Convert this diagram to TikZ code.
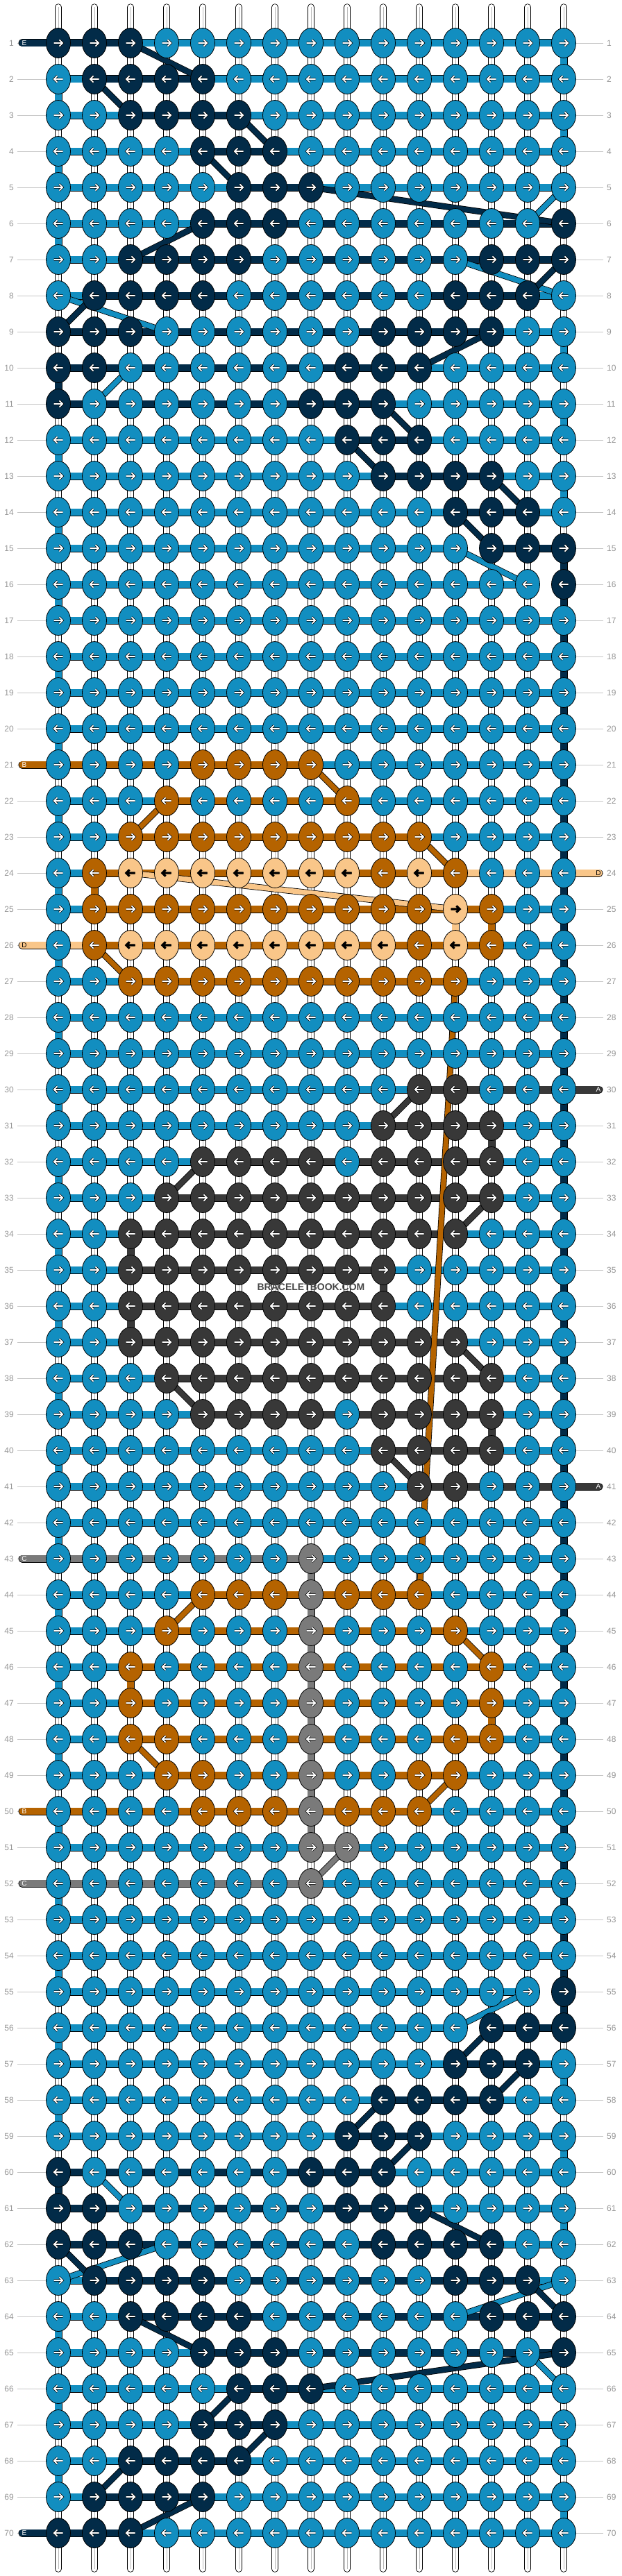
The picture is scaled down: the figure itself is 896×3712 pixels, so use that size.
\documentclass[tikz,border=0pt]{standalone}
\usepackage{fontspec}
\setmainfont{Liberation Sans}
\usetikzlibrary{shapes.geometric}

\definecolor{cb}{RGB}{18,142,192}
\definecolor{cn}{RGB}{2,43,72}
\definecolor{co}{RGB}{181,99,0}
\definecolor{cp}{RGB}{249,198,137}
\definecolor{cg}{RGB}{56,56,56}
\definecolor{cm}{RGB}{122,122,122}
\definecolor{labgray}{RGB}{150,150,150}
\colorlet{arwb}{white}
\colorlet{arwn}{white}
\colorlet{arwo}{white}
\colorlet{arwg}{white}
\colorlet{arwm}{white}
\colorlet{arwp}{black}

\pgfdeclarelayer{paper}
\pgfdeclarelayer{warp}
\pgfdeclarelayer{weft}
\pgfdeclarelayer{cross}
\pgfsetlayers{paper,warp,weft,cross,main}

\newcount\kcol

\begin{document}
\begin{tikzpicture}[x=1pt,y=-1pt,
  knot/.style={ellipse,draw=black,line width=.8pt,minimum width=35pt,minimum height=43pt,inner sep=0pt},
  glyph/.style={draw=black,line width=.7pt,double=arw#1,double distance=1.8pt},
  thread/.style={draw=black,line width=.8pt,double=c#1,double distance=9.4pt},
  carry/.style={draw=black,line width=.8pt,double=c#1,double distance=7.4pt},
  warp/.style={draw=black,line width=.8pt,double=white,double distance=8.8pt,line cap=round},
  warpmid/.style={draw=gray!55,line width=.9pt},
  rowlab/.style={text=labgray,font=\fontsize{12}{12}\selectfont,inner sep=5pt},
  labline/.style={draw=gray!45,line width=.8pt},
  tag/.style={text=arw#1,font=\fontsize{10}{10}\selectfont,inner sep=0pt},
  wmark/.style={text=black!72,font=\bfseries\fontsize{14}{14}\selectfont,inner sep=0pt}]
  \begin{pgfonlayer}{paper}
    \fill[white] (0,0) rectangle (896,3712);
  \end{pgfonlayer}
  \useasboundingbox (0,0) rectangle (896,3712);
  % knots, row by row
  \foreach \r/\kruns in {
    1/{3/n,12/b}, 2/{1/b,4/n,10/b}, 3/{2/b,4/n,9/b}, 4/{4/b,3/n,8/b},
    5/{5/b,3/n,7/b}, 6/{4/b,3/n,7/b,1/n}, 7/{2/b,4/n,6/b,3/n},
    8/{1/b,4/n,6/b,3/n,1/b}, 9/{3/n,6/b,4/n,2/b}, 10/{2/n,6/b,3/n,4/b},
    11/{1/n,6/b,3/n,5/b}, 12/{8/b,3/n,4/b}, 13/{9/b,4/n,2/b},
    14/{11/b,3/n,1/b}, 15/{12/b,3/n}, 16/{14/b,1/n},
    17/{15/b}, 18/{15/b}, 19/{15/b}, 20/{15/b},
    21/{4/b,4/o,7/b}, 22/{3/b,1/o,4/b,1/o,6/b}, 23/{2/b,9/o,4/b},
    24/{1/b,1/o,7/p,1/o,1/p,1/o,3/b}, 25/{1/b,10/o,1/p,1/o,2/b},
    26/{1/b,1/o,8/p,1/o,1/p,1/o,2/b}, 27/{2/b,10/o,3/b},
    28/{15/b}, 29/{15/b},
    30/{10/b,2/g,3/b}, 31/{9/b,4/g,2/b}, 32/{4/b,4/g,1/b,4/g,2/b},
    33/{3/b,10/g,2/b}, 34/{2/b,10/g,3/b}, 35/{2/b,8/g,5/b},
    36/{2/b,8/g,5/b}, 37/{2/b,10/g,3/b}, 38/{3/b,10/g,2/b},
    39/{4/b,4/g,1/b,4/g,2/b}, 40/{9/b,4/g,2/b}, 41/{10/b,2/g,3/b},
    42/{15/b},
    43/{7/b,1/m,7/b}, 44/{4/b,3/o,1/m,3/o,4/b}, 45/{3/b,1/o,3/b,1/m,3/b,1/o,3/b},
    46/{2/b,1/o,4/b,1/m,4/b,1/o,2/b}, 47/{2/b,1/o,4/b,1/m,4/b,1/o,2/b},
    48/{2/b,2/o,3/b,1/m,3/b,2/o,2/b}, 49/{3/b,2/o,2/b,1/m,2/b,2/o,3/b},
    50/{4/b,3/o,1/m,3/o,4/b}, 51/{7/b,2/m,6/b}, 52/{7/b,1/m,7/b},
    53/{15/b}, 54/{15/b},
    55/{14/b,1/n}, 56/{12/b,3/n}, 57/{11/b,3/n,1/b}, 58/{9/b,4/n,2/b},
    59/{8/b,3/n,4/b}, 60/{1/n,6/b,3/n,5/b}, 61/{2/n,6/b,3/n,4/b},
    62/{3/n,6/b,4/n,2/b}, 63/{1/b,4/n,6/b,3/n,1/b}, 64/{2/b,4/n,6/b,3/n},
    65/{4/b,3/n,7/b,1/n}, 66/{5/b,3/n,7/b}, 67/{4/b,3/n,8/b},
    68/{2/b,4/n,9/b}, 69/{1/b,4/n,10/b}, 70/{3/n,12/b}}{
    \ifodd\r\relax\def\dir{1}\else\def\dir{-1}\fi
    \global\kcol=0
    \foreach \n/\col in \kruns{
      \foreach \j in {1,...,\n}{
        \global\advance\kcol by 1
        \edef\kc{\the\kcol}
        \node[knot,fill=c\col] (k-\r-\kc) at ({32+52*\kc},{10+52*\r}) {};
        \draw[glyph=\col,shift={(k-\r-\kc.center)},xscale=\dir]
          (-6.5,0) -- (6,0) (1.5,-4.6) -- (6.2,0) -- (1.5,4.6);
      }
    }
  }
  % row numbers
  \foreach \r in {1,...,70}{
    \node[rowlab,anchor=east] (ll-\r) at (25,{10+52*\r}) {\r};
    \node[rowlab,anchor=west] (lr-\r) at (869,{10+52*\r}) {\r};
  }
  \begin{pgfonlayer}{warp}
    \foreach \r in {1,...,70}{
      \draw[labline] (ll-\r) -- (k-\r-1);
      \draw[labline] (lr-\r) -- (k-\r-15);
    }
    \foreach \c in {1,...,15}{
      \coordinate (top-\c) at ({32+52*\c},10.5);
      \coordinate (bot-\c) at ({32+52*\c},3701.5);
      \draw[warp] (top-\c) -- (bot-\c);
      \draw[warpmid] (top-\c) -- (bot-\c);
    }
  \end{pgfonlayer}
  \begin{pgfonlayer}{weft}
    % thread along each row
    \foreach \r/\sruns in {
      1/{2/n,12/b}, 2/{1/b,3/n,10/b}, 3/{2/b,3/n,9/b}, 4/{4/b,2/n,8/b},
      5/{5/b,2/n,7/b}, 6/{4/b,10/n}, 7/{2/b,12/n}, 8/{1/b,12/n,1/b},
      9/{12/n,2/b}, 10/{10/n,4/b}, 11/{9/n,5/b}, 12/{8/b,2/n,4/b},
      13/{9/b,3/n,2/b}, 14/{11/b,2/n,1/b}, 15/{11/b,1/-,2/n}, 16/{13/b,1/-},
      17/{14/b}, 18/{14/b}, 19/{14/b}, 20/{14/b},
      21/{7/o,7/b}, 22/{3/b,5/o,6/b}, 23/{2/b,8/o,4/b}, 24/{1/b,10/o,3/p},
      25/{1/b,11/o,2/b}, 26/{1/p,11/o,2/b}, 27/{2/b,9/o,3/b},
      28/{14/b}, 29/{14/b},
      30/{10/b,4/g}, 31/{9/b,3/g,2/b}, 32/{4/b,8/g,2/b}, 33/{3/b,9/g,2/b},
      34/{2/b,9/g,3/b}, 35/{2/b,7/g,5/b}, 36/{2/b,7/g,5/b}, 37/{2/b,9/g,3/b},
      38/{3/b,9/g,2/b}, 39/{4/b,8/g,2/b}, 40/{9/b,3/g,2/b}, 41/{10/b,4/g},
      42/{14/b},
      43/{7/m,7/b}, 44/{4/b,6/o,4/b}, 45/{3/b,8/o,3/b}, 46/{2/b,10/o,2/b},
      47/{2/b,10/o,2/b}, 48/{2/b,10/o,2/b}, 49/{3/b,8/o,3/b}, 50/{10/o,4/b},
      51/{7/b,1/m,6/b}, 52/{7/m,7/b},
      53/{14/b}, 54/{14/b},
      55/{13/b,1/-}, 56/{11/b,1/-,2/n}, 57/{11/b,2/n,1/b}, 58/{9/b,3/n,2/b},
      59/{8/b,2/n,4/b}, 60/{9/n,5/b}, 61/{10/n,4/b}, 62/{12/n,2/b},
      63/{1/b,12/n,1/b}, 64/{2/b,12/n}, 65/{4/b,10/n}, 66/{5/b,2/n,7/b},
      67/{4/b,2/n,8/b}, 68/{2/b,3/n,9/b}, 69/{1/b,3/n,10/b}, 70/{2/n,12/b}}{
      \global\kcol=0
      \foreach \n/\col in \sruns{
        \foreach \j in {1,...,\n}{
          \global\advance\kcol by 1
          \edef\kc{\the\kcol}
          \pgfmathtruncatemacro\kn{\kc+1}
          \if\col-\else
            \draw[thread=\col] (k-\r-\kc.center) -- (k-\r-\kn.center);
          \fi
        }
      }
    }
    % turns at the edges and straight drops
    \foreach \r/\c/\col in {1/15/b,3/15/b,9/15/b,11/15/b,13/15/b,57/15/b,59/15/b,61/15/b,67/15/b,69/15/b,
        2/1/b,4/1/b,6/1/b,10/1/n,60/1/n,64/1/b,66/1/b,68/1/b,
        24/2/o,25/12/p,25/13/o,31/13/g,34/3/g,35/10/g,36/3/g,39/13/g,46/3/o,47/13/o}{
      \pgfmathtruncatemacro\rn{\r+1}
      \draw[thread=\col] (k-\r-\c.center) -- (k-\rn-\c.center);
    }
    \foreach \r in {15,...,55}{
      \pgfmathtruncatemacro\rn{\r+1}
      \draw[thread=n] (k-\r-15.center) -- (k-\rn-15.center);
    }
    \foreach \r in {12,14,...,58}{
      \pgfmathtruncatemacro\rn{\r+1}
      \draw[thread=b] (k-\r-1.center) -- (k-\rn-1.center);
    }
    \foreach \r in {43,...,50}{
      \pgfmathtruncatemacro\rn{\r+1}
      \draw[thread=m] (k-\r-8.center) -- (k-\rn-8.center);
    }
    % loose ends
    \foreach \r/\col in {1/n,21/o,26/p,43/m,50/o,52/m,70/n}{
      \coordinate (in-\r) at (32,{10+52*\r});
      \draw[thread=\col,line cap=round] (in-\r) -- (k-\r-1.center);
    }
    \foreach \r/\col in {24/p,30/g,41/g}{
      \coordinate (out-\r) at (863,{10+52*\r});
      \draw[thread=\col,line cap=round] (out-\r) -- (k-\r-15.center);
    }
  \end{pgfonlayer}
  % carried threads
  \begin{pgfonlayer}{cross}
    \foreach \ra/\ca/\rz/\cz/\col in {
        5/15/6/14/b,7/12/8/15/b,8/1/9/4/b,10/3/11/2/b,15/12/16/14/b,
        55/14/56/12/b,60/2/61/3/b,62/4/63/1/b,63/15/64/12/b,65/14/66/15/b,
        1/3/2/5/n,2/2/3/3/n,3/6/4/7/n,4/5/5/6/n,5/8/6/15/n,6/5/7/3/n,7/15/8/14/n,
        8/2/9/1/n,9/13/10/11/n,11/10/12/11/n,12/9/13/10/n,13/13/14/14/n,14/12/15/13/n,
        56/13/57/12/n,57/14/58/13/n,58/10/59/9/n,59/11/60/10/n,61/11/62/13/n,
        62/1/63/2/n,63/14/64/15/n,64/3/65/5/n,65/15/66/8/n,66/6/67/5/n,
        67/7/68/6/n,68/3/69/2/n,69/5/70/3/n,
        21/8/22/9/o,22/4/23/3/o,23/11/24/12/o,26/2/27/3/o,27/12/44/11/o,
        44/5/45/4/o,45/12/46/13/o,48/3/49/4/o,49/12/50/11/o,
        24/3/25/12/p,
        30/11/31/10/g,32/5/33/4/g,33/13/34/12/g,37/12/38/13/g,38/4/39/5/g,40/10/41/11/g,
        51/9/52/8/m}{
      \draw[carry=\col] (k-\ra-\ca.center) -- (k-\rz-\cz.center);
    }
  \end{pgfonlayer}
  \foreach \r/\col/\lett in {1/n/E,21/o/B,26/p/D,43/m/C,50/o/B,52/m/C,70/n/E}
    \node[tag=\col] (tg-\r) at (35,{10+52*\r}) {\lett};
  \foreach \r/\col/\lett in {24/p/D,30/g/A,41/g/A}
    \node[tag=\col] (tg-\r) at (862,{10+52*\r}) {\lett};
  \node[wmark] (wm) at (448,1855) {BRACELETBOOK.COM};
\end{tikzpicture}
\end{document}
